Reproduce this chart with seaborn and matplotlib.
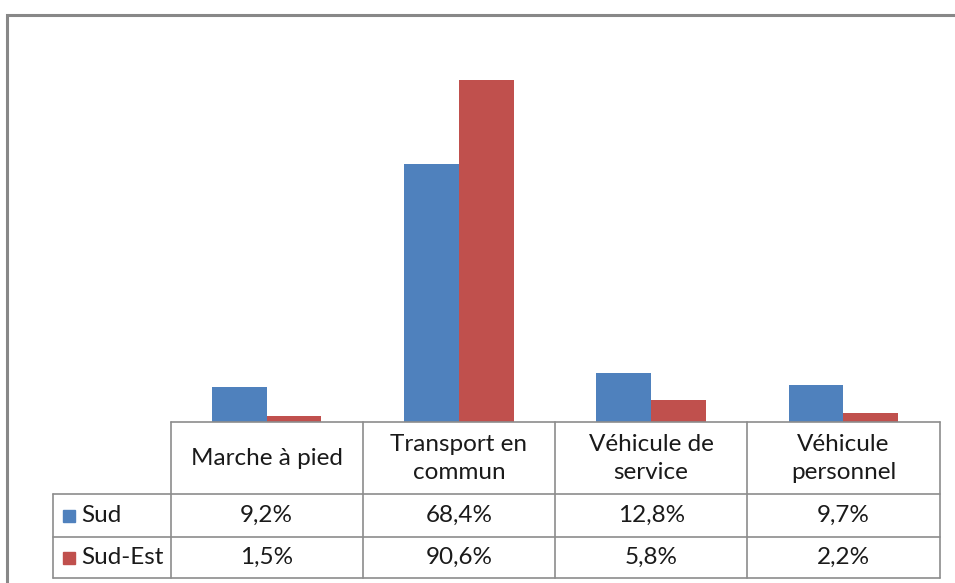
import pandas as pd
import numpy as np
import matplotlib.pyplot as plt
import seaborn as sns
from matplotlib.patches import Rectangle

#data
categories = ["Marche à pied", "Transport en\ncommun", "Véhicule de\nservice", "Véhicule\npersonnel"]
series = ["Sud", "Sud-Est"]
sud = [9.2, 68.4, 12.8, 9.7]
sud_est = [1.5, 90.6, 5.8, 2.2]
colors = ["#4F81BD", "#C0504D"]

df = pd.DataFrame({
    "cat": categories * 2,
    "serie": [series[0]] * 4 + [series[1]] * 4,
    "val": sud + sud_est,
})

W, H = 955, 583
fig = plt.figure(figsize=(W / 100, H / 100), dpi=100)
sns.set_style("white")
plt.rcParams['font.family'] = ['Lato', 'DejaVu Sans']

def fx(px):
    return px / W

def fy(py):
    return 1 - py / H

#outer chart border
fig.patches.append(Rectangle((fx(7), fy(700)), fx(1200), fy(15) - fy(700),
                             transform=fig.transFigure, fill=False,
                             edgecolor="#888888", linewidth=2.2))

#plot area
x0, x1, ytop, ybase = 170.5, 939.5, 45, 421.5
ax = fig.add_axes([fx(x0), fy(ybase), fx(x1) - fx(x0), fy(ytop) - fy(ybase)])
sns.barplot(data=df, x="cat", y="val", hue="serie", palette=colors,
            width=0.57, gap=0, saturation=1, linewidth=0, ax=ax, legend=False)
ax.set_xlim(-0.5, 3.5)
ax.set_ylim(0, 100)
ax.axis("off")

#data table
tab_left = 53
rows = [ybase, 494, 537, 578]
tab = fig.add_axes([0, 0, 1, 1])
tab.set_xlim(0, W)
tab.set_ylim(H, 0)
tab.axis("off")
lc = "#8C8C8C"
colw = (x1 - x0) / 4
xs = [x0 + i * colw for i in range(5)]
# horizontal lines
tab.plot([x0, x1], [rows[0], rows[0]], color=lc, lw=1.2)
for r in rows[1:]:
    tab.plot([tab_left, x1], [r, r], color=lc, lw=1.2)
# vertical lines
for xv in xs:
    tab.plot([xv, xv], [rows[0], rows[3]], color=lc, lw=1.2)
tab.plot([tab_left, tab_left], [rows[1], rows[3]], color=lc, lw=1.2)

fs = 17.5
for i, c in enumerate(categories):
    tab.text(xs[i] + colw / 2, (rows[0] + rows[1]) / 2 + 1, c, ha="center", va="center",
             fontsize=fs, color="#1a1a1a", linespacing=1.4)

for j, (name, vals) in enumerate(zip(series, [sud, sud_est])):
    yc = (rows[j + 1] + rows[j + 2]) / 2
    tab.add_patch(Rectangle((63, yc - 6), 12, 12, color=colors[j]))
    tab.text(81, yc, name, ha="left", va="center", fontsize=fs, color="#1a1a1a")
    for i, v in enumerate(vals):
        tab.text(xs[i] + colw / 2, yc, f"{v:.1f}%".replace(".", ","),
                 ha="center", va="center", fontsize=fs, color="#1a1a1a")

fig.savefig("out.png", dpi=100, facecolor="white")
